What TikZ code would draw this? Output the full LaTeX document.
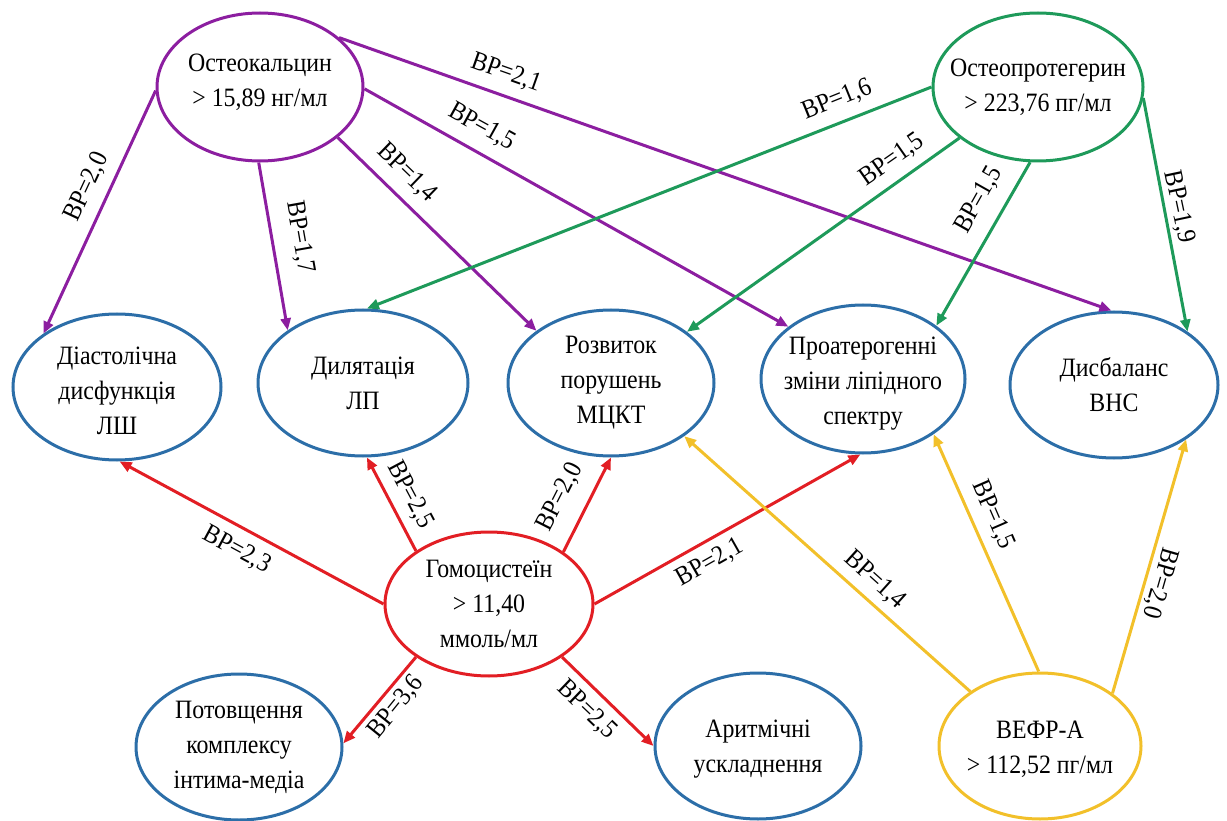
\documentclass[tikz,border=0pt]{standalone}
\usepackage{fontspec}
\setmainfont{Liberation Serif}[FakeStretch=0.9]
\usetikzlibrary{arrows.meta,shapes.geometric}
\definecolor{cpur}{RGB}{140,30,160}
\definecolor{cgrn}{RGB}{30,154,90}
\definecolor{cblu}{RGB}{44,110,168}
\definecolor{cred}{RGB}{226,30,36}
\definecolor{cyel}{RGB}{242,192,42}
\begin{document}
\begin{tikzpicture}[x=1pt,y=-1pt,
  el/.style={ellipse, line width=3pt, fill=white, inner sep=0pt},
  txt/.style={align=center, inner sep=0pt, font=\fontsize{26.5}{35}\selectfont},
  arr/.style={line width=3pt, -{Triangle[length=12pt,width=10pt]}},
  lbl/.style={inner sep=0pt, font=\fontsize{26.5}{28}\selectfont}]
\useasboundingbox (0,0) rectangle (1227,821);
% nodes
\node[el, draw=cpur, minimum width=206pt, minimum height=148pt,
  label={[txt, yshift=5pt]center:{Остеокальцин\\> 15,89 нг/мл}}] (oc) at (260,87) {};
\node[el, draw=cgrn, minimum width=210pt, minimum height=148pt,
  label={[txt]center:{Остеопротегерин\\> 223,76 пг/мл}}] (op) at (1038,87) {};
\node[el, draw=cblu, minimum width=208pt, minimum height=146pt,
  label={[txt, yshift=-4pt]center:{Діастолічна\\дисфункція\\ЛШ}}] (dia) at (117,387) {};
\node[el, draw=cblu, minimum width=210pt, minimum height=146pt,
  label={[txt]center:{Дилятація\\ЛП}}] (dil) at (363,383) {};
\node[el, draw=cblu, minimum width=206pt, minimum height=146pt,
  label={[txt]center:{Розвиток\\порушень\\МЦКТ}}] (roz) at (611,383) {};
\node[el, draw=cblu, minimum width=204pt, minimum height=148pt,
  label={[txt, yshift=-5pt]center:{Проатерогенні\\зміни ліпідного\\спектру}}] (pro) at (863,379) {};
\node[el, draw=cblu, minimum width=208pt, minimum height=146pt,
  label={[txt]center:{Дисбаланс\\ВНС}}] (dis) at (1114,385) {};
\node[el, draw=cred, minimum width=208pt, minimum height=144pt,
  label={[txt]center:{Гомоцистеїн\\> 11,40\\ммоль/мл}}] (hom) at (489,604) {};
\node[el, draw=cblu, minimum width=206pt, minimum height=146pt,
  label={[txt]center:{Потовщення\\комплексу\\інтима-медіа}}] (pot) at (239,747) {};
\node[el, draw=cblu, minimum width=206pt, minimum height=146pt,
  label={[txt, yshift=-3pt]center:{Аритмічні\\ускладнення}}] (ary) at (758,746) {};
\node[el, draw=cyel, minimum width=202pt, minimum height=146pt,
  label={[txt, yshift=-3pt]center:{ВЕФР-А\\> 112,52 пг/мл}}] (vef) at (1040,746) {};
% connectors
\draw[arr,cpur] (oc.182) -- (dia.144);
\draw[arr,cpur] (oc.269) -- (dil.145);
\draw[arr,cpur] (oc.327) -- (roz.145);
\draw[arr,cpur] (oc.359) -- (pro.145);
\draw[arr,cpur] (oc.32) -- (dis.92);
\draw[arr,cgrn] (op.180) -- (dil.87);
\draw[arr,cgrn] (op.213) -- (roz.34);
\draw[arr,cgrn] (op.264) -- (pro.36);
\draw[arr,cgrn] (op.354) -- (dis.36);
\draw[arr,cred] (hom.180) -- (dia.272);
\draw[arr,cred] (hom.144) -- (dil.273);
\draw[arr,cred] (hom.35) -- (roz.270);
\draw[arr,cred] (hom.0) -- (pro.268);
\draw[arr,cred] (hom.216) -- (pot.2);
\draw[arr,cred] (hom.324) -- (ary.180);
\draw[arr,cyel] (vef.142) -- (roz.324);
\draw[arr,cyel] (vef.91) -- (pro.322);
\draw[arr,cyel] (vef.36) -- (dis.323);
% labels
\node[lbl, rotate=65] (l1) at (87,187) {ВР=2,0};
\node[lbl, rotate=-80] (l2) at (300,237) {ВР=1,7};
\node[lbl, rotate=-44] (l3) at (407,173) {ВР=1,4};
\node[lbl, rotate=-29] (l4) at (482,127) {ВР=1,5};
\node[lbl, rotate=-19.5] (l5) at (506,73) {ВР=2,1};
\node[lbl, rotate=22] (l6) at (837,100) {ВР=1,6};
\node[lbl, rotate=35] (l7) at (892,160) {ВР=1,5};
\node[lbl, rotate=60.6] (l8) at (979,200) {ВР=1,5};
\node[lbl, rotate=-78] (l9) at (1179,207) {ВР=1,9};
\node[lbl, rotate=-28.4] (l10) at (237,550) {ВР=2,3};
\node[lbl, rotate=-62] (l11) at (410,495) {ВР=2,5};
\node[lbl, rotate=63] (l12) at (560,497) {ВР=2,0};
\node[lbl, rotate=29.5] (l13) at (710,563) {ВР=2,1};
\node[lbl, rotate=51] (l14) at (396,707) {ВР=3,6};
\node[lbl, rotate=-43.7] (l15) at (587,710) {ВР=2,5};
\node[lbl, rotate=-42] (l16) at (875,580) {ВР=1,4};
\node[lbl, rotate=-66.5] (l17) at (993,515) {ВР=1,5};
\node[lbl, rotate=-106] (l18) at (1160,583) {ВР=2,0};
\end{tikzpicture}
\end{document}
